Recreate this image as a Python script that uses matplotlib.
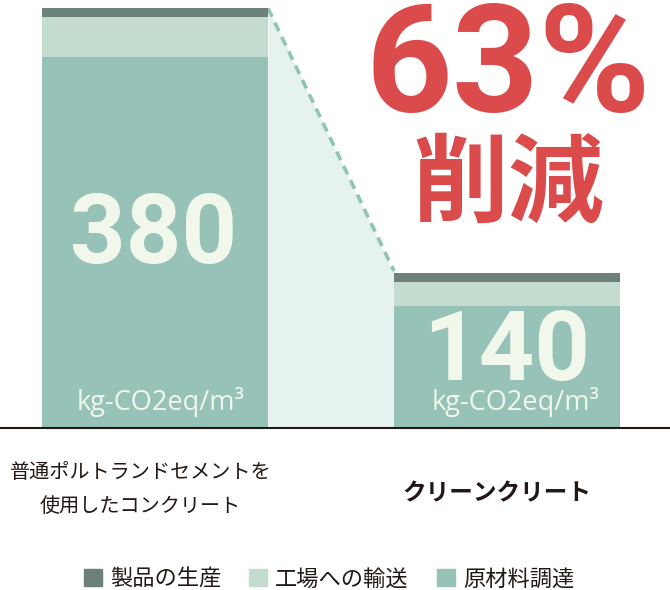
import matplotlib.pyplot as plt
from matplotlib.patches import Patch

plt.rcParams['font.family'] = ['Noto Sans CJK JP', 'DejaVu Sans']

# データ
categories = ['普通ポルトランドセメントを\n使用したコンクリート', 'クリーンクリート']
totals = [380, 140]
raw_material = [336, 110]   # 原材料調達
transport = [36, 22]        # 工場への輸送
production = [8, 8]         # 製品の生産
series_labels = ['製品の生産', '工場への輸送', '原材料調達']
unit_label = 'kg-CO2eq/m³'
reduction_label = '63%'

# 色
c_prod = '#6c8279'
c_trans = '#c4dcd0'
c_raw = '#97c2b7'
c_shade = '#e5f2ef'
c_dash = '#8fc4b6'
c_red = '#dc4b4b'
c_num = '#f2f7ec'
c_text = '#231815'

W, H = 670, 590
fig = plt.figure(figsize=(W / 100, H / 100), dpi=100)
ax = fig.add_axes([0, 0, 1, 1])

# 軸のスケール（ピクセル位置に合わせる）
px_per_x = 352.0
px_per_y = 419.4 / 380
base_px = 162.3
ax.set_xlim(-155 / px_per_x, (W - 155) / px_per_x)
ax.set_ylim(-base_px / px_per_y, (H - base_px) / px_per_y)
ax.axis('off')

xs = [0, 1]
bw = 226 / px_per_x

# 間の影と点線
x_l = xs[0] + bw / 2
x_r = xs[1] - bw / 2
ax.fill_between([x_l, x_r], [totals[0], totals[1]], 0, color=c_shade, lw=0, zorder=1)
ax.plot([x_l, x_r], [totals[0], totals[1] + 2], color=c_dash, lw=2.6,
        dashes=(2.6, 1.8), zorder=2)

# 積み上げ棒
b1 = ax.bar(xs, raw_material, bw, color=c_raw, zorder=3)
bottom2 = [r for r in raw_material]
b2 = ax.bar(xs, transport, bw, bottom=bottom2, color=c_trans, zorder=3)
bottom3 = [r + t for r, t in zip(raw_material, transport)]
b3 = ax.bar(xs, production, bw, bottom=bottom3, color=c_prod, zorder=3)

# ベースライン
ax.axhline(0, color=c_text, lw=1.5, zorder=4)

# 棒の中の数値
num_y = [(H - 263 - base_px) / px_per_y, (H - 380 - base_px) / px_per_y]
num_dx = [-0.003, 0.0]
for x, v, y, dx in zip(xs, totals, num_y, num_dx):
    ax.text(x + dx, y, str(v), ha='center', va='baseline', color=c_num,
            fontsize=70, fontweight='bold', family=['Roboto', 'DejaVu Sans'], zorder=5)
unit_dx = [0.015, 0.025]
for x, dx in zip(xs, unit_dx):
    ax.text(x + dx, (H - 410 - base_px) / px_per_y, unit_label, ha='center',
            va='baseline', color=c_num, fontsize=19.5,
            family=['Open Sans', 'DejaVu Sans'], zorder=5)

# 63% 削減
fig.text(508 / W, (H - 112) / H, reduction_label, ha='center', va='baseline',
         color=c_red, fontsize=109, fontweight='bold',
         family=['Roboto', 'DejaVu Sans'])
fig.text(508 / W, (H - 186) / H, '削減', ha='center', va='center',
         color=c_red, fontsize=69, fontweight='bold')

# カテゴリラベル
line1, line2 = categories[0].split('\n')
fig.text(141 / W, (H - 472) / H, line1, ha='center', va='center',
         color=c_text, fontsize=14.5)
fig.text(140 / W, (H - 506) / H, line2, ha='center', va='center',
         color=c_text, fontsize=14.5)
fig.text(497 / W, (H - 493) / H, categories[1], ha='center', va='center',
         color=c_text, fontsize=17, fontweight='bold')

# 凡例
handles = [Patch(color=c_prod), Patch(color=c_trans), Patch(color=c_raw)]
fig.legend(handles, series_labels, ncol=3, frameon=False, loc='center',
           bbox_to_anchor=(329 / W, 11 / H), fontsize=16,
           handlelength=0.81, handleheight=0.81, handletextpad=0.36,
           columnspacing=1.26, labelcolor=c_text, borderpad=0, borderaxespad=0)

plt.savefig('out.png', dpi=100)
